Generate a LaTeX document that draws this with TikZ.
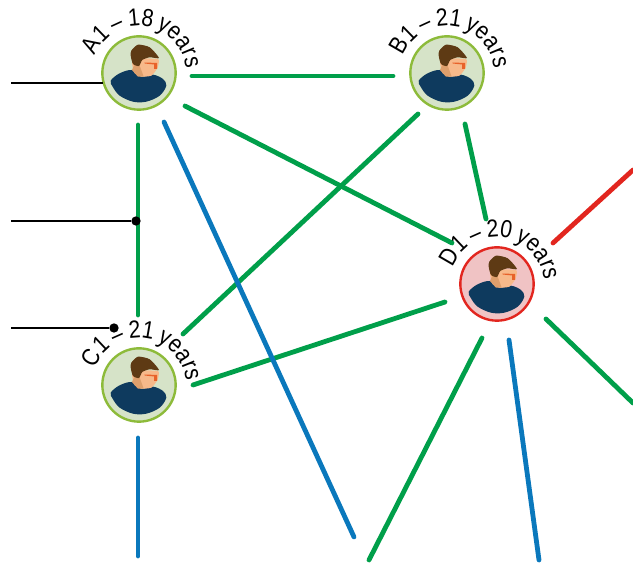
\documentclass[tikz,border=0pt]{standalone}
\usepackage{fontspec}
\setmainfont{Liberation Sans}
\newfontfamily\labelfont[FakeStretch=0.86,WordSpace=0.7]{Liberation Sans}
\usetikzlibrary{calc,decorations.text}

\definecolor{linkgreen}{HTML}{009F4A}
\definecolor{linkblue}{HTML}{0A78BC}
\definecolor{linkred}{HTML}{E2261F}
\definecolor{ringgreen}{HTML}{8DBB3A}
\definecolor{fillgreen}{HTML}{D6E3C8}
\definecolor{fillred}{HTML}{F0C3C4}
\definecolor{shirtblue}{HTML}{0E3A5E}
\definecolor{hairbrown}{HTML}{5E3A14}
\definecolor{skintone}{HTML}{F7B98A}
\definecolor{necktone}{HTML}{DE9F6C}
\definecolor{eyemark}{HTML}{E8622A}

\tikzset{
    member/.style={circle, draw=ringgreen, fill=fillgreen, line width=1.8pt, minimum size=55pt, inner sep=0pt},
    memberred/.style={member, draw=linkred, fill=fillred},
    greenlink/.style={draw=linkgreen, line width=3.6pt, line cap=round},
    bluelink/.style={draw=linkblue, line width=3.6pt, line cap=round},
    redlink/.style={draw=linkred, line width=3.6pt, line cap=round},
    wire/.style={draw=black, line width=1.5pt},
    blackdot/.style={circle, fill=black, inner sep=0pt, minimum size=7pt},
    person/.pic={
        \fill[shirtblue] plot[smooth cycle, tension=0.55] coordinates {(-28.3,-7.7) (-19.3,-0.3) (-7,3) (2.3,-3.7) (14,-1.7) (24,-6) (27.3,-12.7) (20.7,-22.7) (7.3,-28.7) (-6,-28.7) (-19.3,-22.7) (-26,-14.3)};
        \fill[skintone] plot[smooth cycle, tension=0.3] coordinates {(-6,4) (-6,14) (19,14) (18.5,5) (12.3,-2.7) (2.3,-3.7) (-4.3,-.3)};
        \fill[necktone] (-7,3) -- (-1,-3.7) -- (4.7,-3.7) -- (.7,7.3) -- (-4.3,9) -- cycle;
        \fill[hairbrown] plot[smooth cycle, tension=0.4] coordinates {(-7.7,22.3) (-1,28.3) (10.7,25.7) (20,15) (10.7,15.7) (3.3,13) (0,7) (-6,9) (-8.3,17.3)};
        \fill[eyemark] (5.7,10.5) -- (18,10) -- (18,4) -- (15,4) -- (15,8.5) -- (5.7,9.5) -- cycle;
    }
}

\newcommand{\agelabel}[2]{%
    \path[decorate, decoration={text along path, text align=center, text={|\labelfont\fontsize{18.5pt}{22pt}\selectfont|#2}}]
        ($(#1)+(190:47)$) arc[start angle=190, end angle=-26, radius=47];
}

\begin{document}
\begin{tikzpicture}[x=0.75pt,y=0.75pt]
    \clip (0,0) rectangle (633,563);

    % Define members
    \node[member] (A) at (139,490) {};
    \node[member] (B) at (447,490) {};
    \node[member] (C) at (139,178) {};
    \node[memberred] (D) at (497,279) {};

    \foreach \m/\txt in {A/A1 – 18 years,B/B1 – 21 years,C/C1 – 21 years,D/D1 – 20 years} {
        \pic at (\m) {person};
        \agelabel{\m}{\txt}
    }

    % Links between members
    \foreach \a/\ax/\ay/\b/\bx/\by in {A/53/-3/B/-54/-3, A/46/-33/D/-45/41, A/-1/-52/C/-1/70, B/-29/-41/C/44/51, B/18/-51/D/-11/65, C/54/0/D/-52/-18} {
        \draw[greenlink] ($(\a)+(\ax,\ay)$) -- ($(\b)+(\bx,\by)$);
    }

    % Free ends
    \coordinate (E1) at (633,160);
    \coordinate (E2) at (369,3);
    \coordinate (E3) at (354,26);
    \coordinate (E4) at (138,7);
    \coordinate (E5) at (539,3);
    \coordinate (E6) at (633,393);

    \foreach \a/\ax/\ay/\e/\kind in {D/49/-35/E1/greenlink, D/-15/-54/E2/greenlink, A/25/-49/E3/bluelink, C/-1/-53/E4/bluelink, D/12/-56/E5/bluelink, D/56/41/E6/redlink} {
        \draw[\kind] ($(\a)+(\ax,\ay)$) -- (\e);
    }

    % Inputs on the left
    \coordinate (S1) at (11,480);
    \coordinate (S2) at (11,342);
    \coordinate (S3) at (11,235);
    \node[blackdot] (J2) at (136,342) {};
    \node[blackdot] (J3) at (114,235) {};

    \draw[wire] (S1) -- ($(A)+(-36,-10)$);
    \draw[wire] (S2) -- (J2);
    \draw[wire] (S3) -- (J3);

\end{tikzpicture}
\end{document}
